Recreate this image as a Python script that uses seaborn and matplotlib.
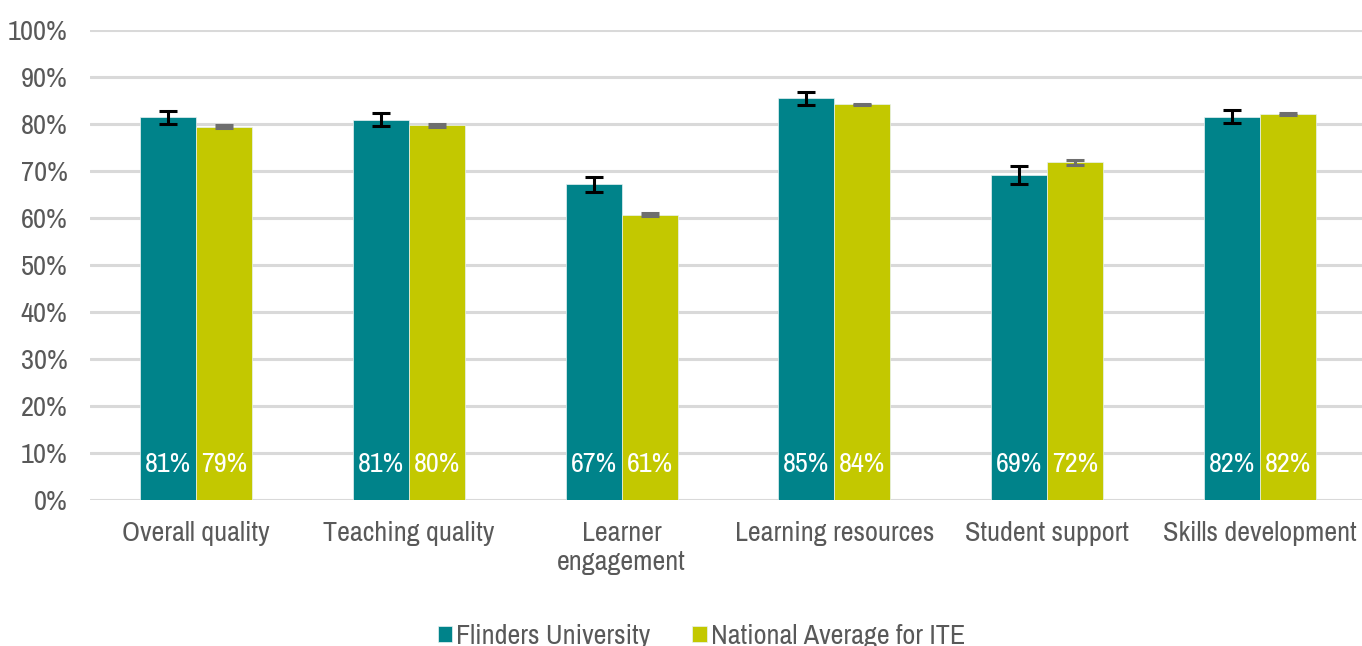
import matplotlib
matplotlib.use("Agg")
import matplotlib.pyplot as plt
import seaborn as sns
import pandas as pd
import numpy as np
from matplotlib import font_manager

categories = ["Overall quality", "Teaching quality", "Learner\nengagement",
              "Learning resources", "Student support", "Skills development"]
series_names = ["Flinders University", "National Average for ITE"]
flinders = [81.4, 80.9, 67.1, 85.4, 69.1, 81.5]
national = [79.4, 79.7, 60.7, 84.1, 71.8, 82.1]
flinders_err = [1.4, 1.4, 1.6, 1.4, 2.0, 1.4]
national_err = [0.3, 0.3, 0.4, 0.2, 0.6, 0.15]
flinders_labels = ["81%", "81%", "67%", "85%", "69%", "82%"]
national_labels = ["79%", "80%", "61%", "84%", "72%", "82%"]
yticks = [0, 10, 20, 30, 40, 50, 60, 70, 80, 90, 100]

colors = ["#00838A", "#C3C800"]
err_colors = ["#000000", "#6E6E6E"]
text_grey = "#595959"

sns.set_theme(style="white")

# look for a condensed / narrow sans face
cands = []
for f in font_manager.fontManager.ttflist:
    nm = f.name
    fn = f.fname.lower()
    st = str(f.stretch).lower()
    is_narrow = ("narrow" in nm.lower() or "condensed" in nm.lower()
                 or "narrow" in fn or "condensed" in fn
                 or st in ("condensed", "semi-condensed", "extra-condensed"))
    if is_narrow and f.style == "normal" and f.weight in (400, "normal", "regular"):
        if "bold" in fn or "italic" in fn or "oblique" in fn or "light" in fn:
            continue
        pri = 9
        for k, key in enumerate(["liberationsansnarrow", "narrow", "robotocondensed",
                                 "opensans", "dejavusanscondensed", "condensed"]):
            if key in fn.replace("-", "").replace("_", ""):
                pri = k
                break
        cands.append((pri, f))
cands.sort(key=lambda t: t[0])

if cands:
    chosen = cands[0][1]
    font_manager.fontManager.addfont(chosen.fname)
    plt.rcParams["font.family"] = [chosen.name, "DejaVu Sans"]
    plt.rcParams["font.stretch"] = chosen.stretch
    base = 20.3
    ybase = 20.5
    lab_fs = 20.3
else:
    plt.rcParams["font.family"] = ["Liberation Sans", "DejaVu Sans"]
    base = 16.5
    ybase = 16.5
    lab_fs = 15.5

df = pd.DataFrame({
    "category": categories * 2,
    "series": [series_names[0]] * 6 + [series_names[1]] * 6,
    "value": flinders + national,
})

fig = plt.figure(figsize=(13.62, 6.46), dpi=100)
ax = fig.add_axes([0.0658, 0.226, 0.9375, 0.728])
sns.barplot(data=df, x="category", y="value", hue="series", palette=colors,
            saturation=1, width=0.526, errorbar=None, ax=ax, edgecolor="#E8F2F2",
            linewidth=0.5, zorder=2)

ax.set_xlim(-0.5, 5.5)
ax.set_ylim(0, 100)
ax.set_yticks(yticks)
ax.set_yticklabels([f"{t}%" for t in yticks])
ax.yaxis.grid(True, color="#D9D9D9", linewidth=2.2, zorder=0)
ax.set_axisbelow(True)
for s in ax.spines.values():
    s.set_visible(False)
ax.set_xlabel("")
ax.set_ylabel("")
ax.tick_params(axis="x", length=0, labelsize=base, colors=text_grey, pad=15)
ax.tick_params(axis="y", length=0, labelsize=ybase, colors=text_grey, pad=16)

errs = [flinders_err, national_err]
labs = [flinders_labels, national_labels]
bar_containers = list(ax.containers)
for i, cont in enumerate(bar_containers):
    xs = [p.get_x() + p.get_width() / 2 for p in cont.patches]
    hs = [p.get_height() for p in cont.patches]
    ax.errorbar(xs, hs, yerr=errs[i], fmt="none", ecolor=err_colors[i],
                elinewidth=2.2, capsize=6.5, capthick=2.2, zorder=3)
    for x, lab in zip(xs, labs[i]):
        ax.text(x, 7.6, lab, ha="center", va="center", color="white",
                fontsize=lab_fs, zorder=4)

handles, labels = ax.get_legend_handles_labels()
if ax.legend_:
    ax.legend_.remove()
fig.legend(handles, labels, loc="upper center", bbox_to_anchor=(0.515, 0.073),
           ncol=2, frameon=False, fontsize=base, handlelength=0.5,
           handleheight=0.5, handletextpad=0.15, columnspacing=1.5,
           labelcolor=text_grey)

fig.savefig("out.png", dpi=100)
